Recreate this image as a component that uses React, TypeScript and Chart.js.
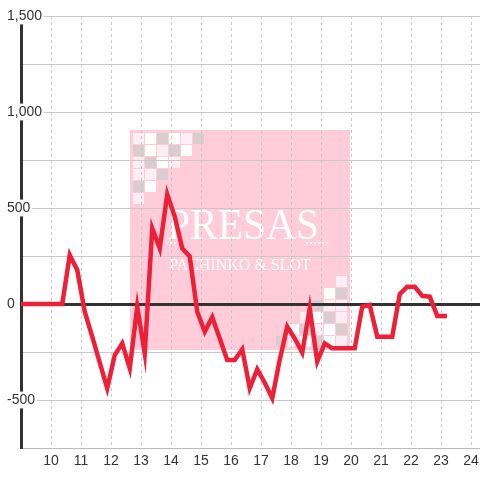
import React, { useEffect, useRef } from 'react';
import { Chart, registerables } from 'chart.js';

Chart.register(...registerables);

// time of day (hours)
const hours = [
  9, 10.375, 10.625, 10.875, 11.125, 11.375, 11.625, 11.875, 12.125, 12.375, 12.625, 12.875,
  13.125, 13.375, 13.625, 13.875, 14.125, 14.375, 14.625, 14.875, 15.125, 15.375, 15.625,
  15.875, 16.125, 16.375, 16.625, 16.875, 17.125, 17.375, 17.625, 17.875, 18.125, 18.375,
  18.625, 18.875, 19.125, 19.375, 19.625, 19.875, 20.125, 20.375, 20.625, 20.875, 21.125,
  21.375, 21.625, 21.875, 22.125, 22.375, 22.625, 22.875, 23.125,
];

// balance values
const balance = [
  0, 0, 255, 177, -40, -170, -305, -439, -266, -205, -335, -14, -257, 394, 290, 571, 455, 290,
  247, -40, -144, -69, -180, -292, -292, -236, -439, -340, -410, -491, -290, -118, -180, -253,
  -23, -300, -205, -231, -231, -231, -231, -14, -5, -170, -170, -170, 52, 90, 90, 42, 38, -62, -62,
];

const xTickHours = [10, 11, 12, 13, 14, 15, 16, 17, 18, 19, 20, 21, 22, 23, 24];
const yGridValues = [-750, -500, -250, 0, 250, 500, 750, 1000, 1250, 1500];
const yLabelValues = [-500, 0, 500, 1000, 1500];

// checker pattern of the watermark (w = white, l = light pink, g = grey)
const checkerRows = ['lwgwlg', 'gwlgw', 'lgwl', 'llg', 'gw', 'l'];
const checkerColors: Record<string, string> = { w: '#ffffff', l: '#fdeef5', g: '#dacdd1' };

const watermark = {
  id: 'watermark',
  beforeDraw(chart: any) {
    const ctx = chart.ctx as CanvasRenderingContext2D;
    const cx = chart.width / 2;
    const cy = chart.height / 2;
    const size = 220;
    const x0 = cx - size / 2;
    const y0 = cy - size / 2;
    const x1 = x0 + size;
    const y1 = y0 + size;
    ctx.save();
    ctx.fillStyle = '#ffccda';
    ctx.fillRect(x0, y0, size, size);
    const pitch = 12;
    const cell = 11;
    checkerRows.forEach((row, r) => {
      row.split('').forEach((ch, c) => {
        ctx.fillStyle = checkerColors[ch];
        ctx.fillRect(x0 + 3 + c * pitch, y0 + 3 + r * pitch, cell, cell);
        ctx.fillRect(x1 - 3 - c * pitch - cell, y1 - 3 - r * pitch - cell, cell, cell);
      });
    });
    ctx.fillStyle = '#ffffff';
    ctx.textAlign = 'center';
    ctx.textBaseline = 'alphabetic';
    ctx.font = '45px "Liberation Serif", "DejaVu Serif", serif';
    ctx.fillText('PRESAS', cx + 3, cy - 1, 152);
    ctx.font = '16px "Liberation Serif", "DejaVu Serif", serif';
    ctx.fillText('PACHINKO & SLOT', cx, cy + 30, 153);
    const dots = [-73, -69, -65, 67, 71, 75, 79, 83, 87];
    dots.forEach((d) => {
      ctx.beginPath();
      ctx.arc(cx + d, cy + 3, 1.2, 0, Math.PI * 2);
      ctx.fill();
    });
    ctx.restore();
  },
};

const font = { family: '"Liberation Sans", Arial, sans-serif', size: 14 };

export default function App() {
  const ref = useRef<HTMLCanvasElement>(null);
  useEffect(() => {
    const chart = new Chart(ref.current!, {
      type: 'line',
      data: {
        datasets: [
          {
            data: hours.map((h, i) => ({ x: h, y: balance[i] })),
            borderColor: '#ee2038',
            borderWidth: 4.5,
            pointRadius: 0,
            tension: 0,
            borderCapStyle: 'square',
            fill: false,
          },
        ],
      },
      options: {
        animation: false,
        responsive: false,
        layout: { padding: { left: 7, top: 16, right: 0, bottom: 0 } },
        plugins: { legend: { display: false }, tooltip: { enabled: false } },
        scales: {
          x: {
            type: 'linear',
            min: 9,
            max: 24.3,
            afterBuildTicks: (s: any) => {
              s.ticks = xTickHours.map((v) => ({ value: v }));
            },
            afterFit: (s: any) => {
              s.height = 32;
              s.paddingLeft = 0;
              s.paddingRight = 0;
            },
            ticks: {
              font,
              color: '#333',
              padding: 5,
              autoSkip: false,
              maxRotation: 0,
              callback: (v: any) => String(v),
            },
            grid: { color: '#c8c8c8', lineWidth: 1, drawTicks: false, z: -2 },
            border: { color: '#bbbbbb', width: 1, dash: [3, 3] },
          },
          y: {
            type: 'linear',
            min: -750,
            max: 1500,
            afterBuildTicks: (s: any) => {
              s.ticks = yGridValues.map((v) => ({ value: v }));
            },
            afterFit: (s: any) => {
              s.width = 14;
            },
            ticks: {
              font,
              color: '#333',
              mirror: true,
              crossAlign: 'near',
              padding: -14,
              autoSkip: false,
              callback: (v: any) => (yLabelValues.includes(v) ? Number(v).toLocaleString('en-US') : ''),
              showLabelBackdrop: (c: any) => !!c.tick && yLabelValues.includes(c.tick.value),
              backdropColor: '#ffffff',
              backdropPadding: { left: 1, right: 2, top: 0, bottom: 0 },
            },
            grid: {
              color: (c: any) => (c.tick && c.tick.value === 0 ? '#333333' : '#c8c8c8'),
              lineWidth: (c: any) => (c.tick && c.tick.value === 0 ? 3 : 1),
              drawTicks: false,
              z: -1,
            },
            border: { color: '#333333', width: 3 },
          },
        },
      } as any,
      plugins: [watermark],
    });
    return () => chart.destroy();
  }, []);
  return (
    <div style={{ position: 'absolute', left: 0, top: 0, width: 480, height: 480 }}>
      <canvas ref={ref} width={480} height={480} style={{ display: 'block' }} />
    </div>
  );
}
